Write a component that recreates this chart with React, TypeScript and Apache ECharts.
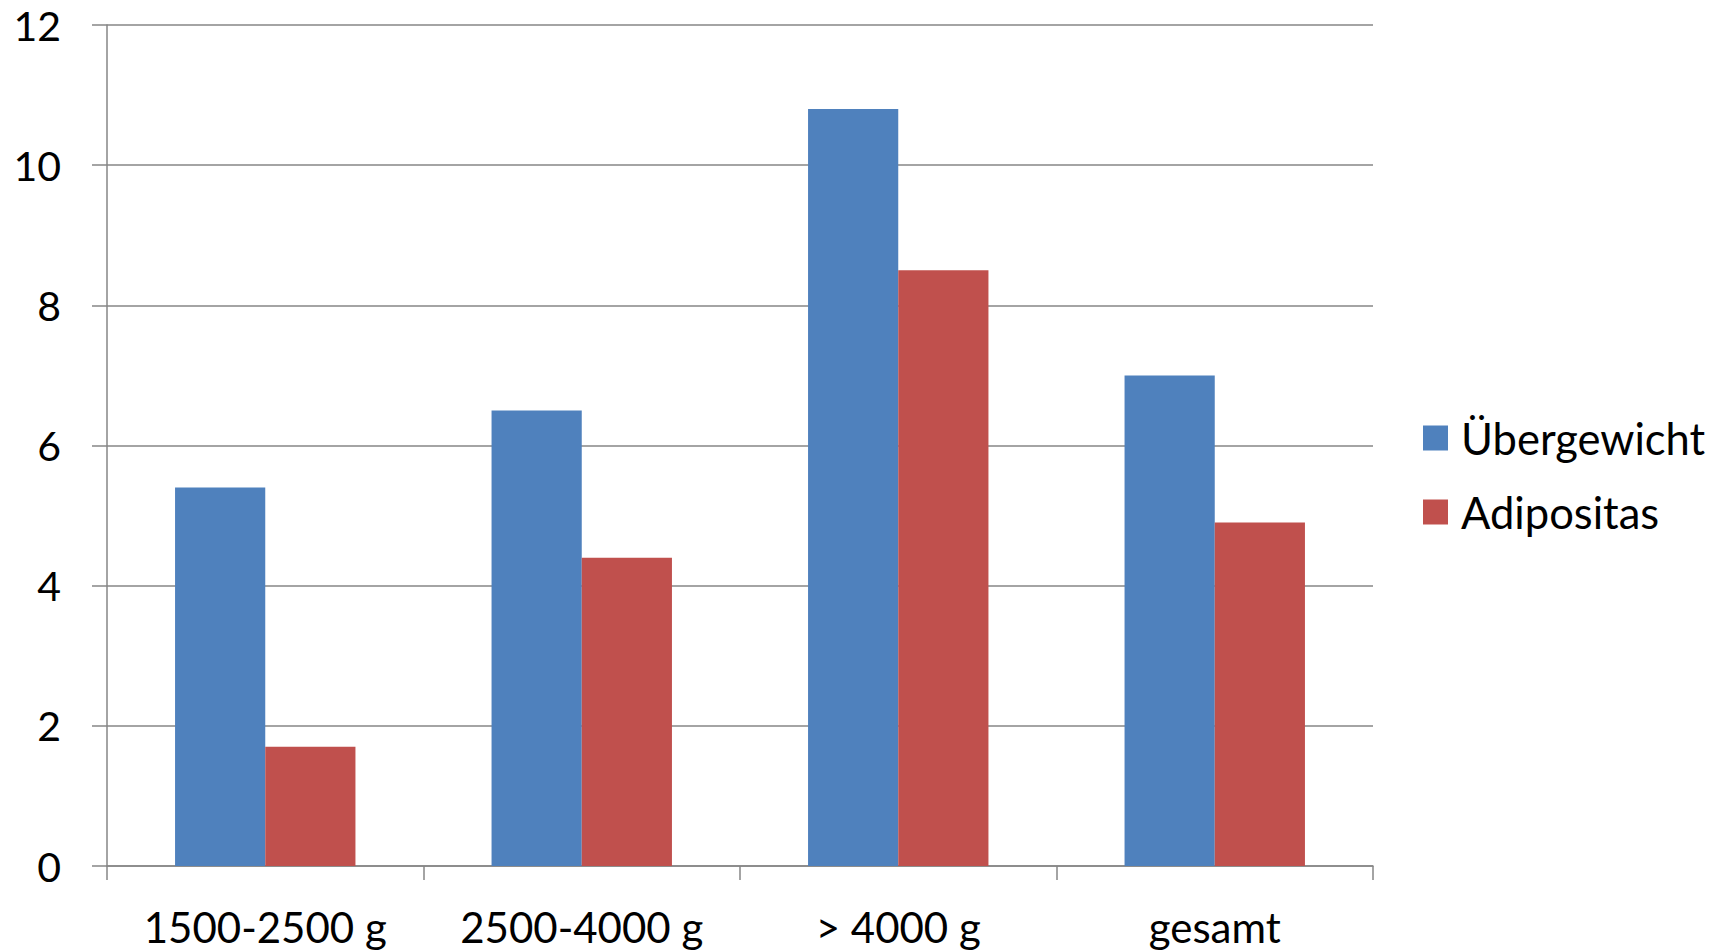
import React, { useEffect, useRef } from "react";
import * as echarts from "echarts";

const categories = ["1500-2500 g", "2500-4000 g", "> 4000 g", "gesamt"];
const uebergewicht = [5.4, 6.5, 10.8, 7.0];
const adipositas = [1.7, 4.4, 8.5, 4.9];
const seriesNames = ["Übergewicht", "Adipositas"];

const FONT = "Lato";
const AXIS_GRAY = "#868686";

export default function App() {
  const ref = useRef<HTMLDivElement>(null);
  useEffect(() => {
    if (!ref.current) return;
    const chart = echarts.init(ref.current, undefined, { renderer: "svg" });
    chart.setOption({
      animation: false,
      backgroundColor: "#ffffff",
      textStyle: { fontFamily: FONT },
      grid: { left: 107, right: 355, top: 25, bottom: 86, containLabel: false },
      legend: {
        orient: "vertical",
        left: 1418,
        top: 411,
        itemWidth: 25,
        itemHeight: 25,
        itemGap: 30,
        icon: "rect",
        data: seriesNames,
        textStyle: { fontFamily: FONT, fontSize: 43.5, color: "#000", padding: [0, 0, 0, 8] },
      },
      xAxis: {
        type: "category",
        data: categories,
        axisLine: { show: true, lineStyle: { color: AXIS_GRAY, width: 1.5 } },
        axisTick: { show: true, length: 14, lineStyle: { color: AXIS_GRAY, width: 1.5 } },
        axisLabel: { fontFamily: FONT, fontSize: 42, color: "#000", margin: 40 },
        splitLine: { show: false },
      },
      yAxis: {
        type: "value",
        min: 0,
        max: 12,
        interval: 2,
        axisLine: { show: true, lineStyle: { color: AXIS_GRAY, width: 1.5 } },
        axisTick: { show: true, length: 15, lineStyle: { color: AXIS_GRAY, width: 1.5 } },
        axisLabel: { fontFamily: FONT, fontSize: 41, color: "#000", margin: 46 },
        splitLine: { show: true, lineStyle: { color: AXIS_GRAY, width: 1.5 } },
      },
      series: [
        {
          name: seriesNames[0],
          type: "bar",
          data: uebergewicht,
          itemStyle: { color: "#4F81BD" },
          barGap: "0%",
          barCategoryGap: "43%",
        },
        {
          name: seriesNames[1],
          type: "bar",
          data: adipositas,
          itemStyle: { color: "#C0504D" },
          barGap: "0%",
          barCategoryGap: "43%",
        },
      ],
    });
    return () => chart.dispose();
  }, []);
  return (
    <div
      ref={ref}
      style={{ position: "fixed", left: 0, top: 0, width: 1728, height: 952, background: "#fff" }}
    />
  );
}
